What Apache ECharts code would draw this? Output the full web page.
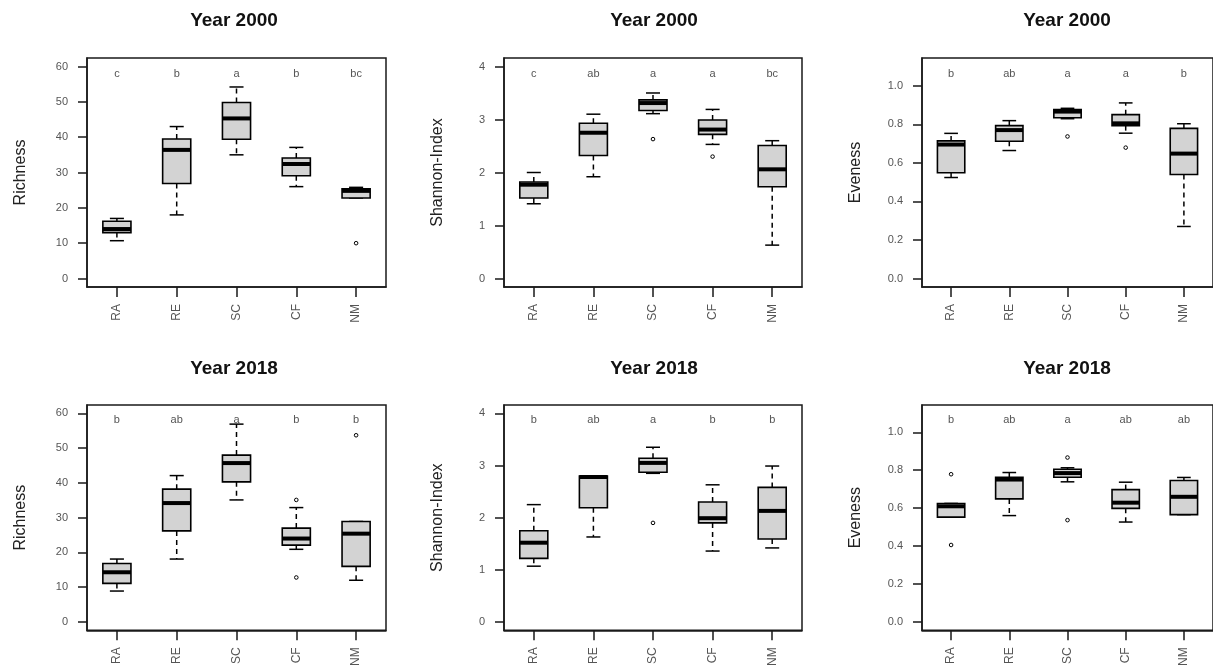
<!DOCTYPE html>
<html>
<head>
<meta charset="utf-8">
<style>html,body{margin:0;padding:0;background:#fff;}#chart{width:1213px;height:669px;}</style>
<script src="https://cdn.jsdelivr.net/npm/echarts@6/dist/echarts.min.js"></script>
</head>
<body>
<div id="chart"></div>
<script>
// ---- data ----
const categories = ['RA', 'RE', 'SC', 'CF', 'NM'];
// each row: [lower whisker, Q1, median, Q3, upper whisker]
const richness2000 = [[10.7,13.0,14.0,16.2,17.0],[18.0,26.9,36.4,39.5,43.0],[35.0,39.4,45.3,49.8,54.2],[26.0,29.1,32.4,34.1,37.1],[22.8,22.8,24.8,25.4,25.8]];
const richness2000Outliers = [['NM', 10.0]];
const richness2000Letters = ['c', 'b', 'a', 'b', 'bc'];

const shannon2000 = [[1.41,1.52,1.77,1.82,2.00],[1.92,2.32,2.75,2.93,3.10],[3.11,3.17,3.31,3.37,3.50],[2.53,2.72,2.81,2.99,3.19],[0.63,1.73,2.06,2.51,2.60]];
const shannon2000Outliers = [['SC', 2.63], ['CF', 2.30]];
const shannon2000Letters = ['c', 'ab', 'a', 'a', 'bc'];

const eveness2000 = [[0.524,0.549,0.695,0.714,0.753],[0.664,0.712,0.770,0.793,0.819],[0.829,0.834,0.866,0.876,0.883],[0.754,0.793,0.805,0.850,0.911],[0.270,0.540,0.648,0.779,0.803]];
const eveness2000Outliers = [['SC', 0.737], ['CF', 0.679]];
const eveness2000Letters = ['b', 'ab', 'a', 'a', 'b'];

const richness2018 = [[8.9,11.1,14.3,16.8,18.1],[18.1,26.2,34.2,38.2,42.1],[35.1,40.3,45.7,48.0,56.9],[20.9,22.1,24.0,27.0,32.9],[12.0,16.0,25.4,28.9,28.9]];
const richness2018Outliers = [['CF', 35.1], ['CF', 12.8], ['NM', 53.7]];
const richness2018Letters = ['b', 'ab', 'a', 'b', 'b'];

const shannon2018 = [[1.07,1.22,1.52,1.75,2.25],[1.63,2.19,2.78,2.80,2.80],[2.85,2.87,3.05,3.14,3.35],[1.36,1.90,1.99,2.30,2.63],[1.42,1.59,2.13,2.58,2.99]];
const shannon2018Outliers = [['SC', 1.90]];
const shannon2018Letters = ['b', 'ab', 'a', 'b', 'b'];

const eveness2018 = [[0.553,0.553,0.610,0.625,0.625],[0.561,0.649,0.751,0.763,0.788],[0.739,0.763,0.785,0.805,0.813],[0.527,0.599,0.629,0.698,0.737],[0.566,0.566,0.660,0.746,0.762]];
const eveness2018Outliers = [['RA', 0.779], ['RA', 0.406], ['SC', 0.867], ['SC', 0.537]];
const eveness2018Letters = ['b', 'ab', 'a', 'ab', 'ab'];

const richnessTicks = [0, 10, 20, 30, 40, 50, 60];
const shannonTicks = [0, 1, 2, 3, 4];
const evenessTicks = [0, 0.2, 0.4, 0.6, 0.8, 1.0];

// ---- layout / style ----
const FONT = 'Liberation Sans, Arial, sans-serif';
const cols = [{left: 87, width: 299, cx: 234}, {left: 504, width: 298, cx: 654}, {left: 922, width: 298, cx: 1067}];
const rows = [{top: 58, height: 229, titleTop: 11}, {top: 405, height: 228, titleTop: 359}];

const panels = [
  {r:0, c:0, title:'Year 2000', name:'Richness', lim:[0,60], ticks:richnessTicks, dec:0, box:richness2000, out:richness2000Outliers, let:richness2000Letters},
  {r:0, c:1, title:'Year 2000', name:'Shannon-Index', lim:[0,4], ticks:shannonTicks, dec:0, box:shannon2000, out:shannon2000Outliers, let:shannon2000Letters},
  {r:0, c:2, title:'Year 2000', name:'Eveness', lim:[0,1.1], ticks:evenessTicks, dec:1, box:eveness2000, out:eveness2000Outliers, let:eveness2000Letters},
  {r:1, c:0, title:'Year 2018', name:'Richness', lim:[0,60], ticks:richnessTicks, dec:0, box:richness2018, out:richness2018Outliers, let:richness2018Letters},
  {r:1, c:1, title:'Year 2018', name:'Shannon-Index', lim:[0,4], ticks:shannonTicks, dec:0, box:shannon2018, out:shannon2018Outliers, let:shannon2018Letters},
  {r:1, c:2, title:'Year 2018', name:'Eveness', lim:[0,1.1], ticks:evenessTicks, dec:1, box:eveness2018, out:eveness2018Outliers, let:eveness2018Letters}
];

function renderBox(params, api) {
  const x = api.value(0);
  const p = [1, 2, 3, 4, 5].map(k => api.coord([x, api.value(k)]));
  const cx = p[0][0];
  const band = api.size([1, 0])[0];
  const hw = band * 0.47 / 2;
  const cw = hw * 0.5;
  const dashed = {stroke: '#000', lineWidth: 1.5, lineDash: [5, 4]};
  const solid = {stroke: '#000', lineWidth: 1.5};
  return {
    type: 'group',
    children: [
      {type: 'line', shape: {x1: cx, y1: p[3][1], x2: cx, y2: p[4][1]}, style: dashed},
      {type: 'line', shape: {x1: cx, y1: p[1][1], x2: cx, y2: p[0][1]}, style: dashed},
      {type: 'line', shape: {x1: cx - cw, y1: p[4][1], x2: cx + cw, y2: p[4][1]}, style: solid},
      {type: 'line', shape: {x1: cx - cw, y1: p[0][1], x2: cx + cw, y2: p[0][1]}, style: solid},
      {type: 'rect', shape: {x: cx - hw, y: p[3][1], width: 2 * hw, height: p[1][1] - p[3][1]},
        style: {fill: '#d3d3d3', stroke: '#000', lineWidth: 1.6}},
      {type: 'line', shape: {x1: cx - hw, y1: p[2][1], x2: cx + hw, y2: p[2][1]}, style: {stroke: '#000', lineWidth: 4}}
    ]
  };
}

function renderPoint(params, api) {
  const c = api.coord([api.value(0), api.value(1)]);
  return {type: 'circle', shape: {cx: c[0], cy: c[1], r: 1.8},
    style: {fill: '#fff', stroke: '#000', lineWidth: 1}};
}

function renderLetter(params, api) {
  const c = api.coord([api.value(0), api.value(1)]);
  return {type: 'text', x: c[0], y: c[1],
    style: {text: params.context.letters[params.dataIndex], fill: '#555', fontSize: 11, fontFamily: FONT,
      align: 'center', verticalAlign: 'middle', textAlign: 'center', textVerticalAlign: 'middle'}};
}

const grid = [], xAxis = [], yAxis = [], series = [], title = [];
panels.forEach((pn, i) => {
  const col = cols[pn.c], row = rows[pn.r];
  const span = pn.lim[1] - pn.lim[0];
  const ymin = pn.lim[0] - 0.04 * span, ymax = pn.lim[1] + 0.04 * span;
  grid.push({left: col.left, width: col.width, top: row.top, height: row.height,
    show: true, borderColor: '#1a1a1a', borderWidth: 1.5, backgroundColor: 'transparent'});
  title.push({text: pn.title, left: col.cx, top: row.titleTop, textAlign: 'center', padding: 0,
    textStyle: {fontFamily: FONT, fontSize: 19, fontWeight: 'bold', color: '#111'}});
  xAxis.push({type: 'category', gridIndex: i, data: categories, boundaryGap: true,
    axisLine: {show: true, onZero: false, lineStyle: {color: '#1a1a1a', width: 1.5}},
    axisTick: {show: true, alignWithLabel: true, length: 10, lineStyle: {color: '#1a1a1a', width: 1.5}},
    axisLabel: {rotate: 90, margin: 17, fontSize: 12, fontFamily: FONT, color: '#555'},
    splitLine: {show: false}});
  yAxis.push({type: 'value', gridIndex: i, min: ymin, max: ymax,
    name: pn.name, nameLocation: 'middle', nameGap: 58,
    nameTextStyle: {fontFamily: FONT, fontSize: 16, color: '#222'},
    axisLine: {show: true, onZero: false, lineStyle: {color: '#1a1a1a', width: 1.5}},
    axisTick: {show: true, length: 9, customValues: pn.ticks, lineStyle: {color: '#1a1a1a', width: 1.5}},
    axisLabel: {customValues: pn.ticks, margin: 19, fontSize: 11, fontFamily: FONT, color: '#555',
      formatter: v => Number(v).toFixed(pn.dec)},
    splitLine: {show: false}});
  series.push({type: 'custom', xAxisIndex: i, yAxisIndex: i, renderItem: renderBox, clip: false,
    encode: {x: 0, y: [1, 2, 3, 4, 5]},
    data: pn.box.map((b, k) => [k].concat(b)), z: 2, silent: true});
  series.push({type: 'custom', xAxisIndex: i, yAxisIndex: i, renderItem: renderPoint, clip: false,
    encode: {x: 0, y: 1},
    data: pn.out.map(o => [categories.indexOf(o[0]), o[1]]), z: 3, silent: true});
  const ly = pn.lim[1] * 0.967;
  const letters = pn.let;
  series.push({type: 'custom', xAxisIndex: i, yAxisIndex: i, clip: false, silent: true, z: 3,
    encode: {x: 0, y: 1},
    renderItem: (params, api) => { params.context.letters = letters; return renderLetter(params, api); },
    data: letters.map((t, k) => [k, ly])});
});

const chart = echarts.init(document.getElementById('chart'), null, {renderer: 'canvas'});
chart.setOption({animation: false, backgroundColor: '#fff', title, grid, xAxis, yAxis, series});
</script>
</body>
</html>
